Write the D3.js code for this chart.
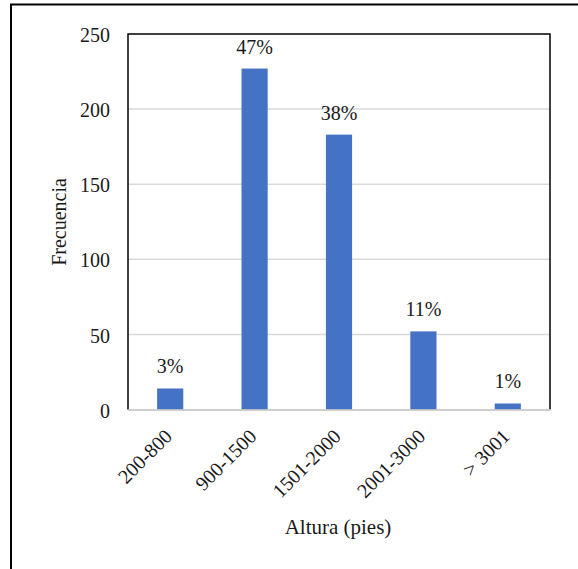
<!DOCTYPE html>
<html>
<head>
<meta charset="utf-8">
<script src="https://cdn.jsdelivr.net/npm/d3@7"></script>
<style>
  body { margin: 0; background: #fff; }
  text { font-family: "Liberation Serif", "Times New Roman", serif; fill: #1a1a1a; }
</style>
</head>
<body>
<script>
const categories = ["200-800", "900-1500", "1501-2000", "2001-3000", "> 3001"];
const counts = [14, 227, 183, 52, 4];
const percentLabels = ["3%", "47%", "38%", "11%", "1%"];
const yTicks = [0, 50, 100, 150, 200, 250];

const W = 578, H = 569;
const plot = { left: 128, top: 34, right: 550, bottom: 409.5 };

const svg = d3.select("body").append("svg")
  .attr("width", W).attr("height", H);

// outer frame
svg.append("rect")
  .attr("x", 11).attr("y", 4.5)
  .attr("width", 700).attr("height", 700)
  .attr("fill", "none").attr("stroke", "#000").attr("stroke-width", 2);

const x = d3.scaleBand().domain(categories).range([plot.left, plot.right]).paddingInner(0.69).paddingOuter(0.345);
const y = d3.scaleLinear().domain([0, 250]).range([plot.bottom, plot.top]);

// gridlines
svg.append("g")
  .selectAll("line").data(yTicks.filter(d => d > 0 && d < 250)).enter().append("line")
  .attr("x1", plot.left).attr("x2", plot.right)
  .attr("y1", d => y(d)).attr("y2", d => y(d))
  .attr("stroke", "#d9d9d9").attr("stroke-width", 1.5);

// bars
svg.append("g")
  .selectAll("rect").data(counts).enter().append("rect")
  .attr("x", (d, i) => x(categories[i]))
  .attr("width", x.bandwidth())
  .attr("y", d => y(d))
  .attr("height", d => plot.bottom - y(d))
  .attr("fill", "#4472c4");

// percent labels
svg.append("g")
  .selectAll("text").data(counts).enter().append("text")
  .attr("x", (d, i) => x(categories[i]) + x.bandwidth() / 2)
  .attr("y", d => y(d) - 15)
  .attr("text-anchor", "middle")
  .attr("font-size", 20)
  .text((d, i) => percentLabels[i]);

// plot frame: black left/top/right, grey baseline
svg.append("path")
  .attr("d", `M${plot.left},${plot.bottom}V${plot.top}H${plot.right}V${plot.bottom}`)
  .attr("fill", "none").attr("stroke", "#000").attr("stroke-width", 1.5);
svg.append("line")
  .attr("x1", plot.left).attr("x2", plot.right + 0.75)
  .attr("y1", plot.bottom + 0.5).attr("y2", plot.bottom + 0.5)
  .attr("stroke", "#bfbfbf").attr("stroke-width", 1.5);

// y axis
const yAxis = svg.append("g")
  .attr("transform", `translate(${plot.left},0)`)
  .call(d3.axisLeft(y).tickValues(yTicks).tickSize(0).tickPadding(18));
yAxis.select(".domain").remove();
yAxis.selectAll("text").attr("font-size", 20).attr("fill", "#1a1a1a")
  .attr("dy", "0.38em")
  .style("font-family", '"Liberation Serif", serif');

// x axis
const xAxis = svg.append("g")
  .attr("transform", `translate(0,${plot.bottom})`)
  .call(d3.axisBottom(x).tickSize(0));
xAxis.select(".domain").remove();
xAxis.selectAll("text")
  .attr("font-size", 20).attr("fill", "#1a1a1a")
  .style("font-family", '"Liberation Serif", serif')
  .attr("text-anchor", "end")
  .attr("dy", 0)
  .attr("transform", "translate(1,26) rotate(-45)");

// axis titles
svg.append("text")
  .attr("transform", `translate(66,222) rotate(-90)`)
  .attr("text-anchor", "middle")
  .attr("font-size", 20)
  .text("Frecuencia");

svg.append("text")
  .attr("x", 338).attr("y", 534)
  .attr("text-anchor", "middle")
  .attr("font-size", 21)
  .text("Altura (pies)");
</script>
</body>
</html>
